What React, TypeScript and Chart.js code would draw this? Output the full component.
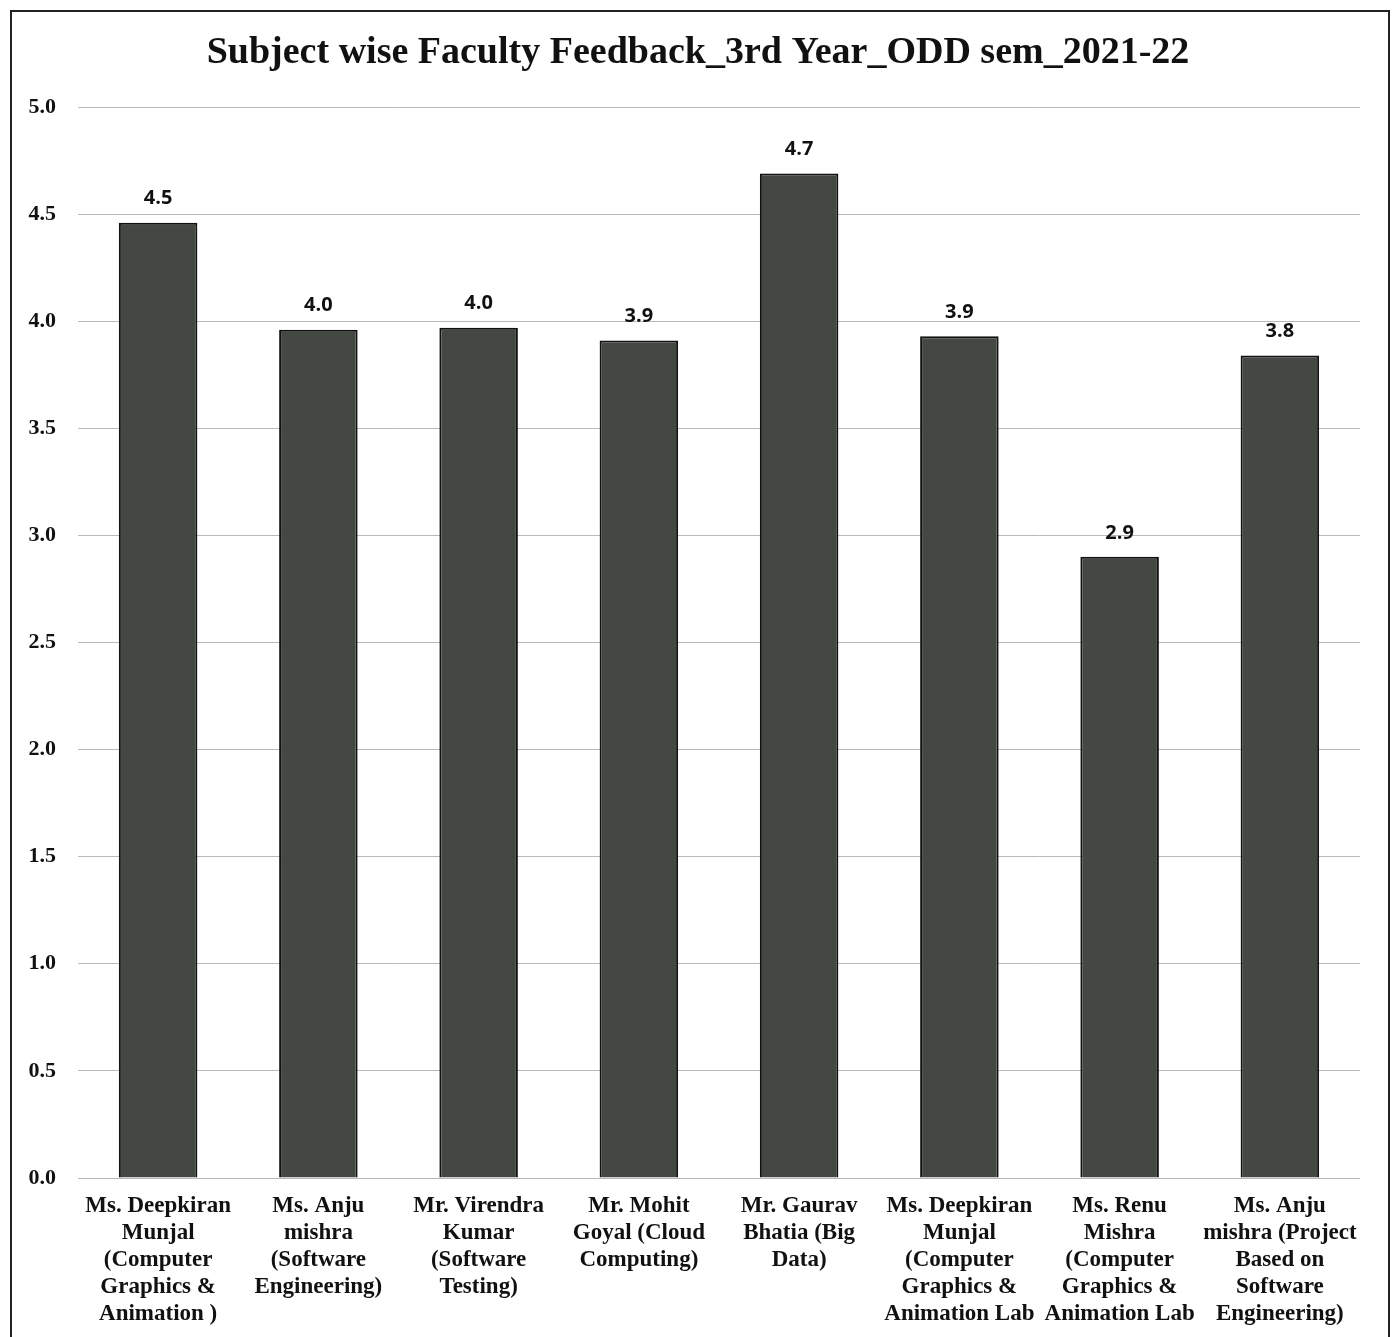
import React, { useEffect, useRef } from "react";
import { Chart, registerables } from "chart.js";

Chart.register(...registerables);

const TITLE = "Subject wise Faculty Feedback_3rd Year_ODD sem_2021-22";

const categories: string[][] = [
  ["Ms. Deepkiran", "Munjal", "(Computer", "Graphics &", "Animation )"],
  ["Ms. Anju", "mishra", "(Software", "Engineering)"],
  ["Mr. Virendra", "Kumar", "(Software", "Testing)"],
  ["Mr. Mohit", "Goyal (Cloud", "Computing)"],
  ["Mr. Gaurav", "Bhatia (Big", "Data)"],
  ["Ms. Deepkiran", "Munjal", "(Computer", "Graphics &", "Animation Lab"],
  ["Ms. Renu", "Mishra", "(Computer", "Graphics &", "Animation Lab"],
  ["Ms. Anju", "mishra (Project", "Based on", "Software", "Engineering)"],
];

const scores: number[] = [4.46, 3.96, 3.97, 3.91, 4.69, 3.93, 2.9, 3.84];
const scoreLabels: string[] = ["4.5", "4.0", "4.0", "3.9", "4.7", "3.9", "2.9", "3.8"];

const Y_MIN = 0;
const Y_MAX = 5;
const Y_STEP = 0.5;

const framePlugin = {
  id: "frame",
  beforeDraw(chart: any) {
    const ctx = chart.ctx;
    ctx.save();
    ctx.fillStyle = "#ffffff";
    ctx.fillRect(0, 0, chart.width, chart.height);
    ctx.strokeStyle = "#222222";
    ctx.lineWidth = 2;
    ctx.strokeRect(11, 11, 1378, chart.height + 20);
    ctx.fillStyle = "#111111";
    ctx.font = "bold 38px 'Liberation Serif', 'Times New Roman', serif";
    ctx.textAlign = "center";
    ctx.textBaseline = "middle";
    ctx.fillText(TITLE, chart.width / 2, 53);
    ctx.restore();
  },
};

const valueLabelPlugin = {
  id: "valueLabels",
  afterDatasetsDraw(chart: any) {
    const ctx = chart.ctx;
    const meta = chart.getDatasetMeta(0);
    ctx.save();
    ctx.fillStyle = "#111111";
    ctx.font = "bold 20px 'Open Sans', 'Liberation Sans', sans-serif";
    ctx.textAlign = "center";
    ctx.textBaseline = "middle";
    meta.data.forEach((bar: any, i: number) => {
      ctx.fillText(scoreLabels[i], bar.x, bar.y - 24);
    });
    ctx.restore();
  },
};

export default function App() {
  const ref = useRef<HTMLCanvasElement | null>(null);

  useEffect(() => {
    if (!ref.current) return;
    const chart = new Chart(ref.current, {
      type: "bar",
      data: {
        labels: categories,
        datasets: [
          {
            data: scores,
            backgroundColor: "#434842",
            borderColor: "#111111",
            borderWidth: 2,
            categoryPercentage: 1,
            barPercentage: 0.49,
          },
        ],
      },
      options: {
        animation: false,
        responsive: true,
        maintainAspectRatio: false,
        layout: { padding: { left: 10, right: 36, top: 107, bottom: 2 } },
        plugins: {
          legend: { display: false },
          tooltip: { enabled: false },
          title: { display: false },
        },
        scales: {
          x: {
            grid: { display: false },
            border: { display: false },
            ticks: {
              color: "#111111",
              font: { family: "'Liberation Serif', 'Times New Roman', serif", size: 23, weight: "bold", lineHeight: "27px" },
              maxRotation: 0,
              minRotation: 0,
              autoSkip: false,
              padding: 7,
            },
          },
          y: {
            min: Y_MIN,
            max: Y_MAX,
            border: { display: false },
            grid: { color: "#b8b8b8", lineWidth: 1, drawTicks: false },
            afterFit: (scale: any) => {
              scale.width = 68;
            },
            ticks: {
              stepSize: Y_STEP,
              color: "#111111",
              padding: 22,
              font: { family: "'Liberation Serif', 'Times New Roman', serif", size: 22, weight: "bold" },
              callback: (v: any) => Number(v).toFixed(1),
            },
          },
        },
      },
      plugins: [framePlugin, valueLabelPlugin],
    });
    return () => chart.destroy();
  }, []);

  return (
    <div style={{ position: "absolute", left: 0, top: 0, width: 1396, height: 1337 }}>
      <canvas ref={ref} />
    </div>
  );
}
